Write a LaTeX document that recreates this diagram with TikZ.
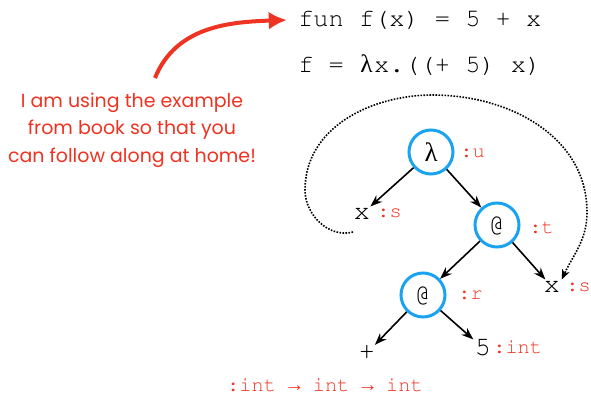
\documentclass[tikz,border=0pt]{standalone}
\usepackage[T1]{fontenc}
\usepackage{fontspec}
\usepackage{xcolor}
\usetikzlibrary{arrows.meta}
\setmainfont{Poppins}
\newfontfamily\codefont{Liberation Mono}
\newfontfamily\lamfont{Liberation Serif}
\newcommand\courier{\fontencoding{T1}\fontfamily{pcr}\selectfont}
\definecolor{notered}{HTML}{EE3322}
\definecolor{ringblue}{HTML}{1AA3F0}

\begin{document}
\begin{tikzpicture}[x=0.25mm,y=-0.25mm,
  code/.style={font=\courier\fontsize{18}{20}\selectfont,inner sep=0pt,anchor=west},
  ring/.style={circle,draw=ringblue,line width=0.75mm,minimum size=11mm,inner sep=0pt,
    font=\courier\fontsize{19}{20}\selectfont},
  leaf/.style={font=\courier\fontsize{19}{20}\selectfont,inner sep=1pt},
  lbl/.style={font=\courier\fontsize{14.5}{16}\selectfont,text=notered,inner sep=0pt,anchor=west},
  edge/.style={-{Stealth[length=3mm,width=2.2mm]},line width=0.4mm}]
\useasboundingbox (0,0) rectangle (591,397);
% program text
\node[code] (line1) at (298,20) {fun f(x) = 5 + x};
\node[code] (line2) at (298,65) {f = \makebox[0.6em]{\lamfont λ}x.((+ 5) x)};
% remark
\node[align=center,text=notered,font=\fontsize{13.5}{19.5}\selectfont] (note) at (132,130)
  {I am using the example\\from book so that you\\can follow along at home!};
\coordinate (tail) at (155,78);
\draw[notered,line width=1mm,-{Latex[length=4.5mm,width=4.5mm]}]
  (tail) to[out=68,in=182] ([xshift=-8]line1.west);
% tree
\node[ring] (lam) at (431,152) {\lamfont λ};
\node[lbl] (u) at (460,153) {:u};
\node[leaf] (x1) at (362,214) {x};
\node[lbl] (s1) at (377,213) {:s};
\node[ring] (appt) at (497,225) {@};
\node[lbl] (t) at (529,228) {:t};
\node[ring] (appr) at (423,295) {@};
\node[lbl] (r) at (458,295) {:r};
\node[leaf] (x2) at (552,287) {x};
\node[lbl] (s2) at (566,287) {:s};
\node[leaf] (plus) at (367,353) {+};
\node[leaf] (five) at (483,348) {5};
\node[lbl] (int) at (493,347) {:int};
\node[lbl,anchor=center] (type) at (325,385) {:int {\codefont →} int {\codefont →} int};
\draw[edge] (lam) -- (x1);
\draw[edge] (lam) -- (appt);
\draw[edge] (appt) -- (appr);
\draw[edge] (appt) -- (x2);
\draw[edge] (appr) -- (plus);
\draw[edge] (appr) -- (five);
% binding loop
\coordinate (loop) at (353,232);
\draw[densely dotted,line width=0.4mm,-{Stealth[length=2.5mm,width=2mm]}]
  (loop) to[out=195,in=-90] (305,190) to[out=90,in=180] (433,95)
  to[out=0,in=90] (587,212) to[out=-90,in=65] (x2.north east);
\end{tikzpicture}
\end{document}
